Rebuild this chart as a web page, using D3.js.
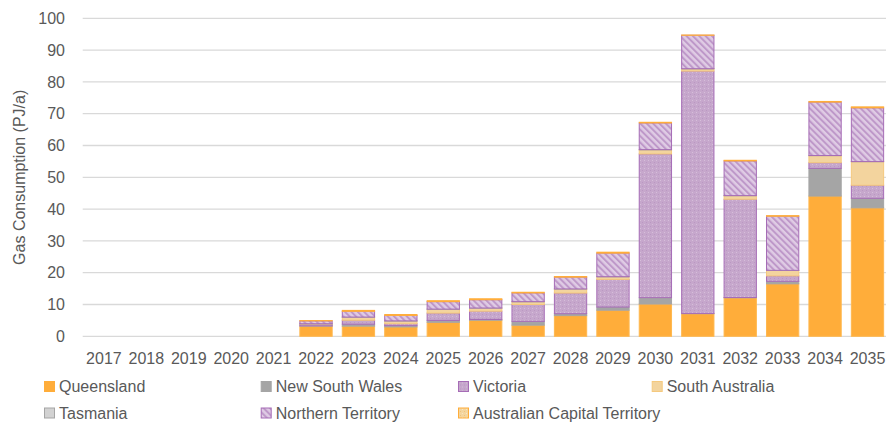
<!DOCTYPE html>
<html>
<head>
<meta charset="utf-8">
<script src="https://cdn.jsdelivr.net/npm/d3@7/dist/d3.min.js"></script>
<style>
  html, body { margin: 0; padding: 0; background: #fff; }
  svg { display: block; font-family: "Liberation Sans", Arial, sans-serif; }
</style>
</head>
<body>
<svg id="chart" width="886" height="427"></svg>
<script>
// Annual gas consumption by state (PJ/a)
const years = ["2017","2018","2019","2020","2021","2022","2023","2024","2025","2026","2027","2028","2029","2030","2031","2032","2033","2034","2035"];
const queensland      = [0,0,0,0,0, 3.2, 3.2, 2.95, 4.4, 5.05, 3.5, 6.5, 8.2, 10.15, 7.1, 12.1, 16.5, 44.1, 40.4];
const newSouthWales   = [0,0,0,0,0, 0.1, 0.6, 0.4, 0.6, 0.25, 1.2, 0.6, 1.0, 2.0, 0.1, 0.1, 0.8, 8.7, 3.0];
const victoria        = [0,0,0,0,0, 0.5, 1.25, 0.6, 2.3, 2.6, 5.3, 6.5, 8.7, 45.2, 76.2, 30.9, 1.7, 1.8, 4.1];
const southAustralia  = [0,0,0,0,0, 0.1, 0.95, 0.85, 1.2, 0.95, 0.85, 1.25, 0.8, 1.3, 0.7, 1.1, 1.7, 2.2, 7.4];
const tasmania        = [0,0,0,0,0, 0.05, 0.05, 0.05, 0.05, 0.05, 0.05, 0.05, 0.05, 0.05, 0.05, 0.05, 0.05, 0.05, 0.05];
const northernTerr    = [0,0,0,0,0, 0.9, 1.8, 1.7, 2.35, 2.6, 2.75, 3.7, 7.4, 8.4, 10.5, 10.9, 17.0, 16.8, 16.9];
const actTerr         = [0,0,0,0,0, 0.1, 0.3, 0.3, 0.3, 0.3, 0.2, 0.2, 0.3, 0.2, 0.1, 0.2, 0.2, 0.2, 0.3];
const seriesNames = ["Queensland","New South Wales","Victoria","South Australia","Tasmania","Northern Territory","Australian Capital Territory"];
const seriesValues = [queensland, newSouthWales, victoria, southAustralia, tasmania, northernTerr, actTerr];
const yTicks = [0,10,20,30,40,50,60,70,80,90,100];
const yTitle = "Gas Consumption (PJ/a)";

const svg = d3.select("#chart");
const defs = svg.append("defs");

// Fill patterns
function dotPattern(id, bg, dot, dot2) {
  const p = defs.append("pattern").attr("id", id).attr("patternUnits", "userSpaceOnUse")
    .attr("width", 4).attr("height", 4);
  p.append("rect").attr("width", 4).attr("height", 4).attr("fill", bg);
  p.append("rect").attr("x", 0).attr("y", 0).attr("width", 1).attr("height", 1).attr("fill", dot);
  p.append("rect").attr("x", 2).attr("y", 2).attr("width", 1).attr("height", 1).attr("fill", dot2);
}
function hatchPattern(id, bg, line) {
  const p = defs.append("pattern").attr("id", id).attr("patternUnits", "userSpaceOnUse")
    .attr("width", 4.5).attr("height", 4.5).attr("patternTransform", "rotate(-45)");
  p.append("rect").attr("width", 4.5).attr("height", 4.5).attr("fill", bg);
  p.append("rect").attr("x", 0).attr("y", 0).attr("width", 2).attr("height", 4.5).attr("fill", line);
}
dotPattern("pVic", "#C6A7CC", "#D6BEDA", "#BA98C2");
hatchPattern("pNT", "#DFCBE4", "#BE98C9");
dotPattern("pACT", "#F4D59E", "#FBE6C0", "#F0C37A");

const styles = [
  { fill: "#FFAD3A", stroke: "#FFB84F" },
  { fill: "#A5A5A5", stroke: "#A5A5A5" },
  { fill: "url(#pVic)", stroke: "#A66CB6" },
  { fill: "#F3D49E", stroke: "#F5C97E" },
  { fill: "#D2D2D2", stroke: "#A5A5A5" },
  { fill: "url(#pNT)", stroke: "#A66CB6" },
  { fill: "url(#pACT)", stroke: "#FFAD3A" }
];

const x = d3.scaleBand().domain(years).range([82.7, 888.7]).paddingInner(0.215).paddingOuter(0.1075);
const y = d3.scaleLinear().domain([0, 100]).range([336.3, 18.3]);

// Gridlines
svg.append("g").selectAll("line").data(yTicks).join("line")
  .attr("x1", 82.7).attr("x2", 886)
  .attr("y1", d => y(d)).attr("y2", d => y(d))
  .attr("stroke", "#D9D9D9").attr("stroke-width", 1.3);

// Y axis labels
const yAxis = svg.append("g").attr("transform", "translate(70,0)")
  .call(d3.axisLeft(y).tickValues(yTicks).tickSize(0).tickPadding(5));
yAxis.select(".domain").remove();
yAxis.selectAll("text").attr("fill", "#595959").attr("font-size", 16)
  .attr("font-family", "Liberation Sans, Arial, sans-serif");

// X axis labels
const xAxis = svg.append("g").attr("transform", "translate(0,347)")
  .call(d3.axisBottom(x).tickSize(0).tickPadding(6));
xAxis.select(".domain").remove();
xAxis.selectAll("text").attr("fill", "#595959").attr("font-size", 16)
  .attr("font-family", "Liberation Sans, Arial, sans-serif");

// Y axis title
svg.append("text")
  .attr("transform", `translate(25,${(y(0) + y(100)) / 2}) rotate(-90)`)
  .attr("text-anchor", "middle")
  .attr("fill", "#595959").attr("font-size", 16)
  .text(yTitle);

// Stacked bars
const table = years.map((yr, i) => {
  const row = { year: yr };
  seriesNames.forEach((n, k) => row[n] = seriesValues[k][i]);
  return row;
});
const stacked = d3.stack().keys(seriesNames)(table);

svg.append("g").selectAll("g").data(stacked).join("g")
  .each(function(layer, k) {
    d3.select(this).selectAll("rect").data(layer.filter(d => d[1] - d[0] > 0)).join("rect")
      .attr("x", d => x(d.data.year) + 0.5)
      .attr("width", x.bandwidth() - 1)
      .attr("y", d => y(d[1]))
      .attr("height", d => Math.max(0, y(d[0]) - y(d[1])))
      .attr("fill", styles[k].fill)
      .attr("stroke", styles[k].stroke)
      .attr("stroke-width", 1);
  });

// Legend
const legendPos = [
  [44, 386.5], [260.7, 386.5], [458, 386.5], [651.7, 386.5],
  [44, 413], [260.7, 413], [458, 413]
];
const legend = svg.append("g").selectAll("g").data(seriesNames).join("g")
  .attr("transform", (d, i) => `translate(${legendPos[i][0]},${legendPos[i][1]})`);
legend.append("rect")
  .attr("x", 0.5).attr("y", -5).attr("width", 10).attr("height", 10)
  .attr("fill", (d, i) => styles[i].fill)
  .attr("stroke", (d, i) => i === 0 ? "#FFAD3A" : styles[i].stroke)
  .attr("stroke-width", 1);
legend.append("text")
  .attr("x", 15).attr("dy", "0.35em")
  .attr("fill", "#595959").attr("font-size", 16)
  .text(d => d);
</script>
</body>
</html>
